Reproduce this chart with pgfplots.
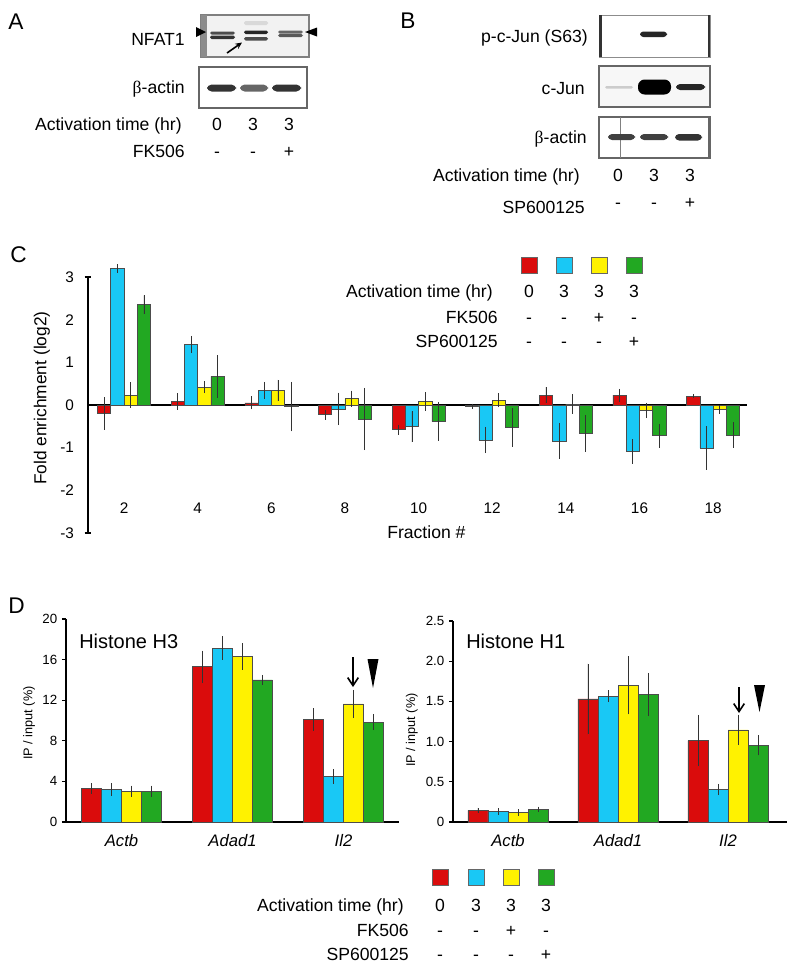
\documentclass[border=0pt]{standalone}
\usepackage{fontspec}
\setmainfont{Liberation Sans}
\newfontfamily\greekserif{Liberation Serif}
\usepackage{pgfplots}
\pgfplotsset{compat=1.18}
\usetikzlibrary{arrows.meta}

\definecolor{cred}{RGB}{218,12,12}
\definecolor{ccyan}{RGB}{25,200,245}
\definecolor{cyel}{RGB}{255,242,0}
\definecolor{cgrn}{RGB}{34,168,34}

\newcommand\fs[1]{\fontsize{#1}{#1}\selectfont}
\newcommand\bact{{\greekserif β}-actin}

\pgfplotsset{
  eb/.style={error bars/.cd, y dir=both, y explicit, error mark=none,
    error bar style={line width=0.6pt, black!80}},
  bars/.style={draw=black!70, line width=0.5pt},
}

\begin{document}
\begin{tikzpicture}
\begin{scope}[x=0.75pt,y=-0.75pt,
  lab/.style={inner sep=0pt, font=\fs{13.2}},
  sq/.style={draw=black!60, line width=0.5pt}]
\path[use as bounding box] (0,0) rectangle (800,971);
\coordinate (oC) at (88,533);
\coordinate (oDL) at (66,822);
\coordinate (oDR) at (453,822);

% panel letters
\node[anchor=base west,inner sep=0pt,font=\fs{17}] at (8,29) {A};
\node[anchor=base west,inner sep=0pt,font=\fs{17}] at (400,28) {B};
\node[anchor=base west,inner sep=0pt,font=\fs{17}] at (10,262) {C};
\node[anchor=base west,inner sep=0pt,font=\fs{17}] at (8,613) {D};

% ---- A: blots
\draw[black!50,line width=0.8pt,fill=black!5] (201,15) rectangle (309,57);
\fill[black!45] (201,15) rectangle (207,57);
\fill[black!70,rounded corners=1.2] (210,31.5) rectangle (235,34.5);
\fill[black!80,rounded corners=1.2] (210,35.5) rectangle (235,39);
\fill[black!15,rounded corners=1.2] (244,21) rectangle (268,25);
\fill[black!85,rounded corners=1.2] (244,30.5) rectangle (268,34);
\fill[black!70,rounded corners=1.2] (244,37) rectangle (268,40.5);
\fill[black!60,rounded corners=1.2] (278,30.5) rectangle (303,33.5);
\fill[black!65,rounded corners=1.2] (278,34) rectangle (303,37);
\fill (196,27) -- (206,32) -- (196,37) -- cycle;
\fill (305,32) -- (317,27.5) -- (317,36.5) -- cycle;
\draw[line width=1.2pt,-{Stealth[length=5pt,width=4.5pt]}] (227,53) -- (242,42.5);
\draw[black!60,line width=0.8pt,fill=white] (199,67) rectangle (307,108);
\fill[black!80,rounded corners=3.5] (207,84.5) rectangle (236,91.5);
\fill[black!60,rounded corners=3.5] (240,84.5) rectangle (268,91.5);
\fill[black!80,rounded corners=3.5] (272,84.5) rectangle (301,91.5);

\node[lab,anchor=base east] at (185,45) {NFAT1};
\node[lab,anchor=base east] at (185,93) {\bact};
\node[lab,anchor=base east] at (182,130) {Activation time (hr)};
\node[lab,anchor=base east] at (185,157) {FK506};
\foreach \x/\a/\b in {217/0/-,253/3/-,289/3/+}{
  \node[lab,anchor=base] at (\x,130) {\a};
  \node[lab,anchor=base] at (\x,157) {\b};
}

% ---- B: blots
\draw[black!45,line width=0.6pt,fill=white] (599,15) rectangle (710,57);
\fill[black!80] (599,15) rectangle (601.5,57);
\fill[black!80] (707.5,15) rectangle (710,57);
\fill[black!85,rounded corners=2.5] (640,31.5) rectangle (667,37);
\draw[black!60,line width=0.8pt,fill=black!3] (599,66) rectangle (710,107);
\fill[black!20,rounded corners=1] (605,86) rectangle (633,88.5);
\fill[black,rounded corners=5] (638,79.5) rectangle (671,94.5);
\fill[black!85,rounded corners=3] (676,84) rectangle (705,90);
\draw[black!60,line width=0.8pt,fill=white] (599,117) rectangle (710,158);
\fill[black!60] (708,117) rectangle (710,158);
\draw[black!50,line width=0.4pt] (620,117) -- (620,158);
\fill[black!75,rounded corners=3] (608,134) rectangle (635,140);
\fill[black!75,rounded corners=3] (640,134) rectangle (668,140);
\fill[black!80,rounded corners=3] (675,134) rectangle (702,140.5);

\node[lab,anchor=base east] at (588,42) {p-c-Jun (S63)};
\node[lab,anchor=base east] at (585,94) {c-Jun};
\node[lab,anchor=base east] at (587,143) {\bact};
\node[lab,anchor=base east] at (580,181) {Activation time (hr)};
\node[lab,anchor=base east] at (585,213) {SP600125};
\foreach \x/\a/\b in {618/0/-,654/3/-,690/3/+}{
  \node[lab,anchor=base] at (\x,181) {\a};
  \node[lab,anchor=base] at (\x,208) {\b};
}

% ---- C legend
\foreach \x/\c in {529/cred,564/ccyan,599/cyel,634/cgrn}
  \draw[sq,fill=\c] (\x-8,257) rectangle (\x+8,273);
\node[lab,anchor=base east] at (493,297) {Activation time (hr)};
\node[lab,anchor=base east] at (498,323) {FK506};
\node[lab,anchor=base east] at (498,347) {SP600125};
\foreach \x/\a/\b/\s in {529/0/-/-,564/3/-/-,599/3/+/-,634/3/-/+}{
  \node[lab,anchor=base] at (\x,297) {\a};
  \node[lab,anchor=base] at (\x,323) {\b};
  \node[lab,anchor=base] at (\x,347) {\s};
}
\node[lab,anchor=base west] at (387,538) {Fraction \#};

% ---- D annotations
\node[anchor=base west,inner sep=0pt,font=\fs{15}] at (79,648) {Histone H3};
\node[anchor=base west,inner sep=0pt,font=\fs{15}] at (466,648) {Histone H1};
\draw[line width=1.2pt,-{Straight Barb[length=6pt,width=8pt]}] (353,657) -- (353,687);
\fill (367.5,659) -- (378.5,659) -- (373,688) -- cycle;
\draw[line width=1.2pt,-{Straight Barb[length=6pt,width=8pt]}] (739,687) -- (739,713);
\fill (754,685) -- (765,685) -- (759.5,712) -- cycle;

% ---- D legend
\foreach \x/\c in {440/cred,476/ccyan,511/cyel,546/cgrn}
  \draw[sq,fill=\c] (\x-8,869) rectangle (\x+8,885);
\node[lab,anchor=base east] at (404,911) {Activation time (hr)};
\node[lab,anchor=base east] at (409,936) {FK506};
\node[lab,anchor=base east] at (409,960) {SP600125};
\foreach \x/\a/\b/\s in {440/0/-/-,476/3/-/-,511/3/+/-,546/3/-/+}{
  \node[lab,anchor=base] at (\x,911) {\a};
  \node[lab,anchor=base] at (\x,936) {\b};
  \node[lab,anchor=base] at (\x,960) {\s};
}
\end{scope}

% ================= C
\begin{axis}[at={(oC)}, anchor=south west, scale only axis,
  width=494.25pt, height=192pt,
  xmin=1.02, xmax=18.92, ymin=-3, ymax=3,
  axis y line*=left, axis x line*=middle,
  every inner x axis line/.append style={-},
  axis line style={-, line width=1.5pt},
  hide obscured y ticks=false,
  ytick={-3,-2,...,3}, xtick=\empty,
  major tick length=0pt,
  extra y ticks={-3,3}, extra y tick labels={},
  extra y tick style={major tick length=5pt, tick align=center,
    tick style={line width=1.2pt, black}},
  yticklabel style={font=\fs{11.5}, xshift=-7pt},
  /pgf/number format/assume math mode=true,
  ybar, bar width=0.36,
  ylabel={Fold enrichment (log2)},
  ylabel style={font=\fs{13}, at={(axis description cs:-0.07,0.527)}, anchor=center},
  clip=false]
\addplot[bars, fill=cred, bar shift=-0.54, eb] coordinates {
  (2,-0.20) +- (0,0.38) (4,0.08) +- (0,0.19) (6,0.05) +- (0,0.15)
  (8,-0.23) +- (0,0.12) (10,-0.58) +- (0,0.12) (12,-0.03) +- (0,0.06)
  (14,0.23) +- (0,0.19) (16,0.23) +- (0,0.15) (18,0.21) +- (0,0.05)};
\addplot[bars, fill=ccyan, bar shift=-0.18, eb] coordinates {
  (2,3.20) +- (0,0.10) (4,1.42) +- (0,0.20) (6,0.34) +- (0,0.20)
  (8,-0.09) +- (0,0.38) (10,-0.51) +- (0,0.36) (12,-0.82) +- (0,0.31)
  (14,-0.84) +- (0,0.42) (16,-1.09) +- (0,0.29) (18,-1.01) +- (0,0.51)};
\addplot[bars, fill=cyel, bar shift=0.18, eb] coordinates {
  (2,0.23) +- (0,0.30) (4,0.42) +- (0,0.14) (6,0.34) +- (0,0.25)
  (8,0.15) +- (0,0.19) (10,0.08) +- (0,0.22) (12,0.11) +- (0,0.16)
  (14,0.02) +- (0,0.23) (16,-0.13) +- (0,0.18) (18,-0.10) +- (0,0.10)};
\addplot[bars, fill=cgrn, bar shift=0.54, eb] coordinates {
  (2,2.35) +- (0,0.22) (4,0.67) +- (0,0.50) (6,-0.04) +- (0,0.58)
  (8,-0.33) +- (0,0.73) (10,-0.39) +- (0,0.45) (12,-0.53) +- (0,0.45)
  (14,-0.66) +- (0,0.43) (16,-0.72) +- (0,0.28) (18,-0.70) +- (0,0.30)};
\pgfplotsinvokeforeach{2,4,6,8,10,12,14,16,18}{
  \node[anchor=base, inner sep=0pt, font=\fs{11.5}] at (axis cs:#1,-2.55) {#1};
}
\end{axis}

% ================= D left
\begin{axis}[at={(oDL)}, anchor=south west, scale only axis,
  width=249.75pt, height=152.25pt,
  xmin=-0.5, xmax=2.5, ymin=0, ymax=20,
  axis x line*=bottom, axis y line*=left,
  axis line style={-, line width=1.5pt},
  ytick={0,4,...,20}, xtick={0,1,2}, xticklabels={Actb,Adad1,Il2},
  x tick style={draw=none}, y tick style={line width=1pt, black},
  tick align=outside, major tick length=3pt,
  yticklabel style={font=\fs{10}},
  xticklabel style={font=\fs{12.5}\itshape, yshift=-3pt},
  /pgf/number format/assume math mode=true,
  ybar, bar width=0.18,
  ylabel={IP / input (\%)},
  ylabel style={font=\fs{9.5}, at={(axis description cs:-0.111,0.488)}, anchor=center},
  clip=false]
\addplot[bars, fill=cred, bar shift=-0.27, eb] coordinates {
  (0,3.30) +- (0,0.50) (1,15.29) +- (0,1.60) (2,10.10) +- (0,1.10)};
\addplot[bars, fill=ccyan, bar shift=-0.09, eb] coordinates {
  (0,3.20) +- (0,0.60) (1,17.13) +- (0,1.15) (2,4.48) +- (0,0.70)};
\addplot[bars, fill=cyel, bar shift=0.09, eb] coordinates {
  (0,3.03) +- (0,0.55) (1,16.30) +- (0,1.30) (2,11.63) +- (0,1.40)};
\addplot[bars, fill=cgrn, bar shift=0.27, eb] coordinates {
  (0,3.03) +- (0,0.55) (1,14.00) +- (0,0.50) (2,9.85) +- (0,0.80)};
\end{axis}

% ================= D right
\begin{axis}[at={(oDR)}, anchor=south west, scale only axis,
  width=250.5pt, height=150.75pt,
  xmin=-0.5, xmax=2.536, ymin=0, ymax=2.5,
  axis x line*=bottom, axis y line*=left,
  axis line style={-, line width=1.5pt},
  ytick={0,0.5,1,1.5,2,2.5}, yticklabels={0,0.5,1.0,1.5,2.0,2.5},
  xtick={0,1,2}, xticklabels={Actb,Adad1,Il2},
  x tick style={draw=none}, y tick style={line width=1pt, black},
  tick align=outside, major tick length=3pt,
  yticklabel style={font=\fs{10}},
  xticklabel style={font=\fs{12.5}\itshape, yshift=-3pt},
  ybar, bar width=0.182,
  ylabel={IP / input (\%)},
  ylabel style={font=\fs{9.5}, at={(axis description cs:-0.123,0.458)}, anchor=center},
  clip=false]
\addplot[bars, fill=cred, bar shift=-0.273, eb] coordinates {
  (0,0.145) +- (0,0.03) (1,1.53) +- (0,0.44) (2,1.013) +- (0,0.32)};
\addplot[bars, fill=ccyan, bar shift=-0.091, eb] coordinates {
  (0,0.133) +- (0,0.04) (1,1.565) +- (0,0.075) (2,0.403) +- (0,0.07)};
\addplot[bars, fill=cyel, bar shift=0.091, eb] coordinates {
  (0,0.12) +- (0,0.04) (1,1.70) +- (0,0.36) (2,1.146) +- (0,0.19)};
\addplot[bars, fill=cgrn, bar shift=0.273, eb] coordinates {
  (0,0.16) +- (0,0.03) (1,1.586) +- (0,0.27) (2,0.955) +- (0,0.125)};
\end{axis}
\end{tikzpicture}
\end{document}
